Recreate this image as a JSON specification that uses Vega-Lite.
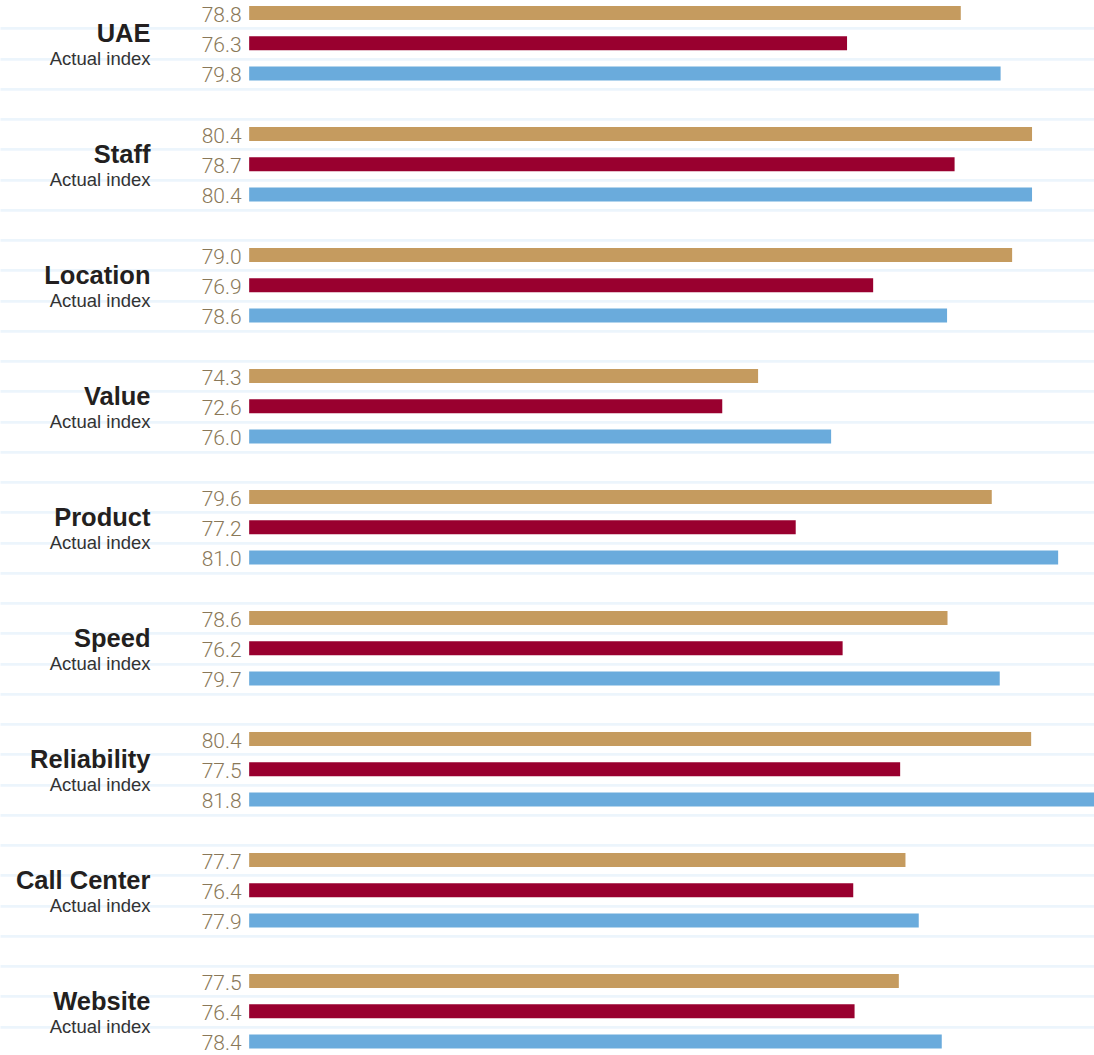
{
  "$schema": "https://vega.github.io/schema/vega-lite/v6.json",
  "width": 1094,
  "height": 1058.75,
  "autosize": "none",
  "padding": {"top": -2.1, "left": 0, "right": 0, "bottom": -2},
  "background": "white",
  "config": {"view": {"stroke": null}},
  "data": {
    "values": [
      {"cat": "UAE", "s": "1", "row": "UAE-1", "label": 78.8, "bar": 78.81},
      {"cat": "UAE", "s": "2", "row": "UAE-2", "label": 76.3, "bar": 76.24},
      {"cat": "UAE", "s": "3", "row": "UAE-3", "label": 79.8, "bar": 79.71},
      {"cat": "Staff", "s": "1", "row": "Staff-1", "label": 80.4, "bar": 80.42},
      {"cat": "Staff", "s": "2", "row": "Staff-2", "label": 78.7, "bar": 78.67},
      {"cat": "Staff", "s": "3", "row": "Staff-3", "label": 80.4, "bar": 80.42},
      {"cat": "Location", "s": "1", "row": "Location-1", "label": 79.0, "bar": 79.97},
      {"cat": "Location", "s": "2", "row": "Location-2", "label": 76.9, "bar": 76.83},
      {"cat": "Location", "s": "3", "row": "Location-3", "label": 78.6, "bar": 78.5},
      {"cat": "Value", "s": "1", "row": "Value-1", "label": 74.3, "bar": 74.23},
      {"cat": "Value", "s": "2", "row": "Value-2", "label": 72.6, "bar": 73.42},
      {"cat": "Value", "s": "3", "row": "Value-3", "label": 76.0, "bar": 75.88},
      {"cat": "Product", "s": "1", "row": "Product-1", "label": 79.6, "bar": 79.51},
      {"cat": "Product", "s": "2", "row": "Product-2", "label": 77.2, "bar": 75.08},
      {"cat": "Product", "s": "3", "row": "Product-3", "label": 81.0, "bar": 81.01},
      {"cat": "Speed", "s": "1", "row": "Speed-1", "label": 78.6, "bar": 78.51},
      {"cat": "Speed", "s": "2", "row": "Speed-2", "label": 76.2, "bar": 76.14},
      {"cat": "Speed", "s": "3", "row": "Speed-3", "label": 79.7, "bar": 79.69},
      {"cat": "Reliability", "s": "1", "row": "Reliability-1", "label": 80.4, "bar": 80.4},
      {"cat": "Reliability", "s": "2", "row": "Reliability-2", "label": 77.5, "bar": 77.44},
      {"cat": "Reliability", "s": "3", "row": "Reliability-3", "label": 81.8, "bar": 81.85},
      {"cat": "Call Center", "s": "1", "row": "Call Center-1", "label": 77.7, "bar": 77.56},
      {"cat": "Call Center", "s": "2", "row": "Call Center-2", "label": 76.4, "bar": 76.38},
      {"cat": "Call Center", "s": "3", "row": "Call Center-3", "label": 77.9, "bar": 77.86},
      {"cat": "Website", "s": "1", "row": "Website-1", "label": 77.5, "bar": 77.41},
      {"cat": "Website", "s": "2", "row": "Website-2", "label": 76.4, "bar": 76.41},
      {"cat": "Website", "s": "3", "row": "Website-3", "label": 78.4, "bar": 78.38}
    ]
  },
  "encoding": {
    "y": {
      "field": "row",
      "type": "nominal",
      "scale": {
        "domain": [
          "UAE-1", "UAE-2", "UAE-3", "UAE-gap",
          "Staff-1", "Staff-2", "Staff-3", "Staff-gap",
          "Location-1", "Location-2", "Location-3", "Location-gap",
          "Value-1", "Value-2", "Value-3", "Value-gap",
          "Product-1", "Product-2", "Product-3", "Product-gap",
          "Speed-1", "Speed-2", "Speed-3", "Speed-gap",
          "Reliability-1", "Reliability-2", "Reliability-3", "Reliability-gap",
          "Call Center-1", "Call Center-2", "Call Center-3", "Call Center-gap",
          "Website-1", "Website-2", "Website-3"
        ],
        "paddingInner": 0,
        "paddingOuter": 0
      },
      "axis": {
        "title": null,
        "labels": false,
        "ticks": false,
        "domain": false,
        "grid": true,
        "tickBand": "extent",
        "gridColor": "#ecf5fc",
        "gridWidth": 2.6
      }
    }
  },
  "layer": [
    {
      "mark": {"type": "bar", "height": 14, "clip": false},
      "encoding": {
        "x": {
          "field": "bar",
          "type": "quantitative",
          "scale": {"domain": [57.1, 81.82], "zero": false, "nice": false},
          "axis": null
        },
        "x2": {"datum": 62.73},
        "color": {
          "field": "s",
          "type": "nominal",
          "scale": {"domain": ["1", "2", "3"], "range": ["#c59b5f", "#99002f", "#6aabdc"]},
          "legend": null
        }
      }
    },
    {
      "mark": {"type": "text", "align": "right", "baseline": "alphabetic", "dy": 8.5, "font": "Roboto", "fontWeight": 300, "fontSize": 21, "color": "#8a7858"},
      "encoding": {
        "x": {"datum": 62.56, "type": "quantitative"},
        "text": {"field": "label", "type": "quantitative", "format": ".1f"}
      }
    },
    {
      "transform": [{"filter": "datum.s == '2'"}],
      "mark": {"type": "text", "align": "right", "baseline": "alphabetic", "dy": -1, "font": "Liberation Sans", "fontWeight": "bold", "fontSize": 25.5, "color": "#231f20"},
      "encoding": {
        "x": {"datum": 60.5, "type": "quantitative"},
        "text": {"field": "cat"}
      }
    },
    {
      "transform": [{"filter": "datum.s == '2'"}],
      "mark": {"type": "text", "align": "right", "baseline": "alphabetic", "dy": 21.5, "font": "Liberation Sans", "fontSize": 18.5, "color": "#333333", "text": "Actual index"},
      "encoding": {
        "x": {"datum": 60.5, "type": "quantitative"}
      }
    }
  ]
}
